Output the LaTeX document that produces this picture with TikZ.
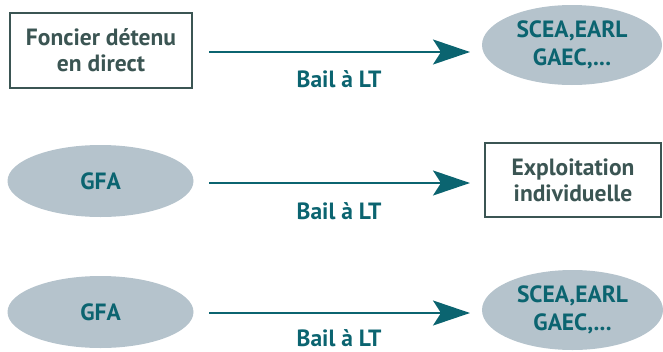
\documentclass[tikz,border=0pt]{standalone}
\usepackage{fontspec}
\setmainfont{PT Sans}
\usetikzlibrary{shapes.geometric,arrows.meta}
\definecolor{darkslate}{HTML}{3B5553}
\definecolor{teal}{HTML}{0B6470}
\definecolor{ellfill}{HTML}{B5C3CC}
\tikzset{
  boxnode/.style={draw=darkslate,line width=2pt,fill=white,text=darkslate,font=\bfseries\fontsize{23.5}{26}\selectfont,align=center,inner sep=0pt},
  ellnode/.style={ellipse,fill=ellfill,text=teal,font=\bfseries\fontsize{23.5}{28}\selectfont,align=center,inner sep=0pt},
  arr/.style={draw=teal,line width=2pt,-{Stealth[length=37pt,width=25pt,inset=8pt]}},
  lbl/.style={text=teal,font=\bfseries\fontsize{23.5}{26}\selectfont,inner sep=0pt}
}
\begin{document}
\begin{tikzpicture}[x=1pt,y=-1pt]
\useasboundingbox (0,0) rectangle (663,351);
% row 1
\node[boxnode,minimum width=182pt,minimum height=75pt] (b1) at (101,50.5) {Foncier détenu\\en direct};
\node[ellnode,minimum width=180pt,minimum height=80pt] (e1) at (572,45) {SCEA,EARL\\GAEC,...};
\coordinate (s1) at (209,52);
\coordinate (t1) at (470,52);
\draw[arr] (s1) -- (t1);
\node[lbl] (l1) at (339,79) {Bail à LT};
% row 2
\node[ellnode,minimum width=186pt,minimum height=72pt] (e2) at (100.5,181) {GFA};
\node[boxnode,minimum width=176pt,minimum height=74pt] (b2) at (573,180) {Exploitation\\individuelle};
\coordinate (s2) at (209,183);
\coordinate (t2) at (470,183);
\draw[arr] (s2) -- (t2);
\node[lbl] (l2) at (339,211) {Bail à LT};
% row 3
\node[ellnode,minimum width=186pt,minimum height=72pt] (e3) at (100.5,312) {GFA};
\node[ellnode,minimum width=181pt,minimum height=80pt] (e4) at (572.5,310) {SCEA,EARL\\GAEC,...};
\coordinate (s3) at (209,313);
\coordinate (t3) at (470,313);
\draw[arr] (s3) -- (t3);
\node[lbl] (l3) at (339,338) {Bail à LT};
\end{tikzpicture}
\end{document}
